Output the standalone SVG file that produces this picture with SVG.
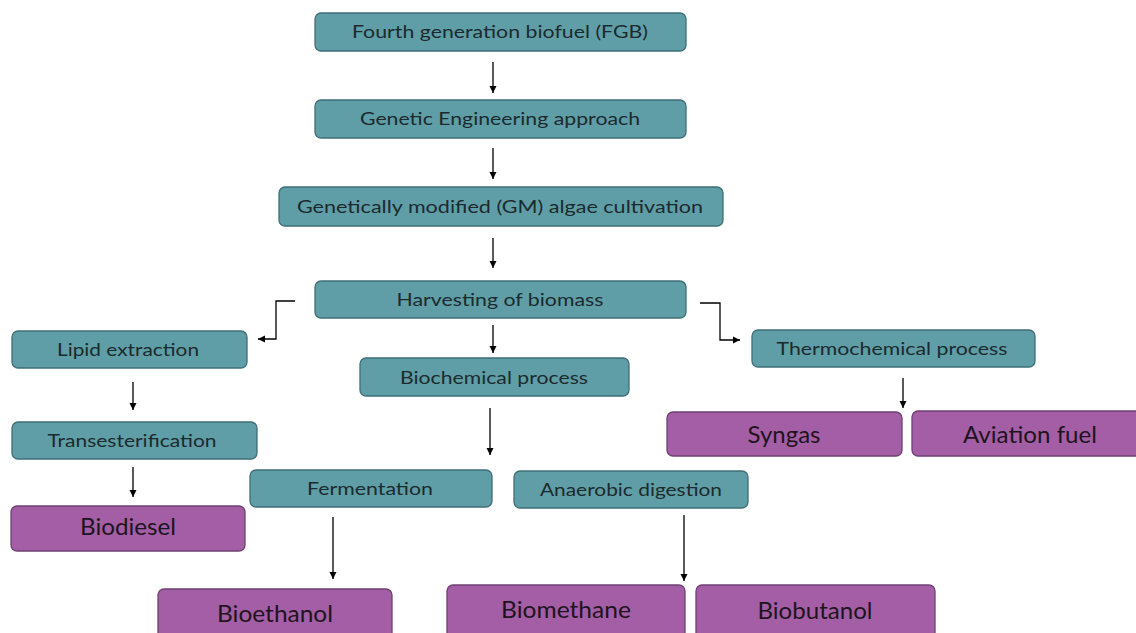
<svg xmlns="http://www.w3.org/2000/svg" width="1136" height="633" viewBox="0 0 1136 633">
<style>
.t{fill:#5f9ea6;stroke:#3f6f78;stroke-width:1.3}
.p{fill:#a35ea5;stroke:#6f4072;stroke-width:1.3}
.tt{font-family:Lato,"Liberation Sans",sans-serif;font-size:17.5px;fill:#1c2a2e;text-anchor:middle}
.pt{font-family:Lato,"Liberation Sans",sans-serif;font-size:23px;fill:#1e1420;text-anchor:middle}
.c{fill:none;stroke:#000;stroke-width:1.3}
</style>
<defs>
<marker id="ah" markerWidth="8" markerHeight="8" refX="7" refY="4" orient="auto" markerUnits="userSpaceOnUse">
<path d="M0,0.5 L7,4 L0,7.5 Z" fill="#000"/>
</marker>
</defs>
<rect width="1136" height="633" fill="#fff"/>
<g id="connectors">
<path class="c" d="M493,62 V93" marker-end="url(#ah)"/>
<path class="c" d="M493,148 V179" marker-end="url(#ah)"/>
<path class="c" d="M493,238 V268" marker-end="url(#ah)"/>
<path class="c" d="M295,301 H276 V339 H258" marker-end="url(#ah)"/>
<path class="c" d="M700,303 H720 V340 H740" marker-end="url(#ah)"/>
<path class="c" d="M493,325 V353" marker-end="url(#ah)"/>
<path class="c" d="M133,382 V410" marker-end="url(#ah)"/>
<path class="c" d="M133,467 V497" marker-end="url(#ah)"/>
<path class="c" d="M903,378 V408" marker-end="url(#ah)"/>
<path class="c" d="M490,408 V455" marker-end="url(#ah)"/>
<path class="c" d="M333,517 V579" marker-end="url(#ah)"/>
<path class="c" d="M684,515 V581" marker-end="url(#ah)"/>
</g>
<g id="n1"><rect class="t" x="315" y="13" width="371" height="38" rx="6"/><text class="tt" x="500" y="38" textLength="296" lengthAdjust="spacingAndGlyphs">Fourth generation biofuel (FGB)</text></g>
<g id="n2"><rect class="t" x="315" y="100" width="371" height="38" rx="6"/><text class="tt" x="500" y="125" textLength="280" lengthAdjust="spacingAndGlyphs">Genetic Engineering approach</text></g>
<g id="n3"><rect class="t" x="279" y="187" width="444" height="39" rx="6"/><text class="tt" x="500" y="213" textLength="406" lengthAdjust="spacingAndGlyphs">Genetically modified (GM) algae cultivation</text></g>
<g id="n4"><rect class="t" x="315" y="281" width="371" height="37" rx="6"/><text class="tt" x="500" y="306" textLength="207" lengthAdjust="spacingAndGlyphs">Harvesting of biomass</text></g>
<g id="n5"><rect class="t" x="12" y="331" width="235" height="37" rx="6"/><text class="tt" x="128" y="356" textLength="142" lengthAdjust="spacingAndGlyphs">Lipid extraction</text></g>
<g id="n6"><rect class="t" x="360" y="358" width="269" height="38" rx="6"/><text class="tt" x="494" y="384" textLength="188" lengthAdjust="spacingAndGlyphs">Biochemical process</text></g>
<g id="n7"><rect class="t" x="752" y="330" width="283" height="37" rx="6"/><text class="tt" x="892" y="355" textLength="231" lengthAdjust="spacingAndGlyphs">Thermochemical process</text></g>
<g id="n8"><rect class="t" x="12" y="422" width="245" height="37" rx="6"/><text class="tt" x="132" y="447" textLength="169" lengthAdjust="spacingAndGlyphs">Transesterification</text></g>
<g id="n9"><rect class="p" x="667" y="412" width="235" height="44" rx="6"/><text class="pt" x="784" y="443" textLength="73" lengthAdjust="spacingAndGlyphs">Syngas</text></g>
<g id="n10"><rect class="p" x="912" y="411" width="230" height="45" rx="6"/><text class="pt" x="1030" y="443" textLength="134" lengthAdjust="spacingAndGlyphs">Aviation fuel</text></g>
<g id="n11"><rect class="t" x="250" y="470" width="242" height="37" rx="6"/><text class="tt" x="370" y="495" textLength="126" lengthAdjust="spacingAndGlyphs">Fermentation</text></g>
<g id="n12"><rect class="t" x="514" y="471" width="234" height="37" rx="6"/><text class="tt" x="631" y="496" textLength="182" lengthAdjust="spacingAndGlyphs">Anaerobic digestion</text></g>
<g id="n13"><rect class="p" x="11" y="506" width="234" height="45" rx="6"/><text class="pt" x="128" y="535" textLength="96" lengthAdjust="spacingAndGlyphs">Biodiesel</text></g>
<g id="n14"><rect class="p" x="158" y="589" width="234" height="55" rx="6"/><text class="pt" x="275" y="622" textLength="116" lengthAdjust="spacingAndGlyphs">Bioethanol</text></g>
<g id="n15"><rect class="p" x="447" y="585" width="238" height="59" rx="6"/><text class="pt" x="566" y="618" textLength="130" lengthAdjust="spacingAndGlyphs">Biomethane</text></g>
<g id="n16"><rect class="p" x="696" y="585" width="239" height="59" rx="6"/><text class="pt" x="815" y="619" textLength="115" lengthAdjust="spacingAndGlyphs">Biobutanol</text></g>
</svg>
